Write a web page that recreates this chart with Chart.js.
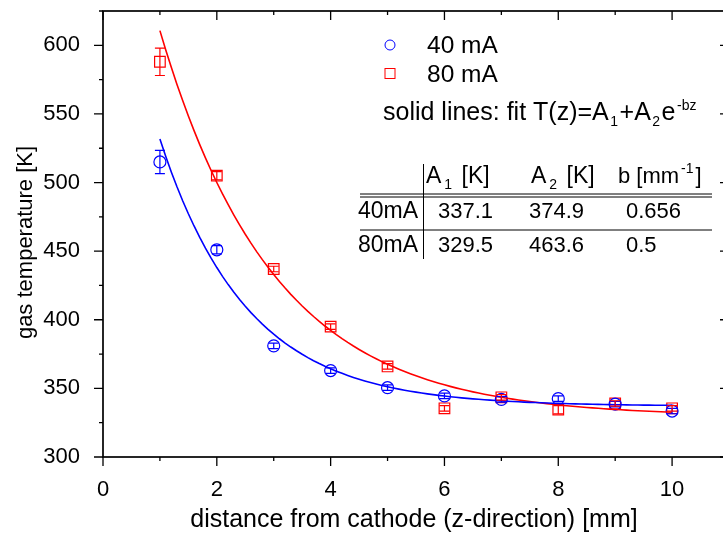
<!DOCTYPE html>
<html>
<head>
<meta charset="utf-8">
<title>Gas temperature vs distance from cathode</title>
<script src="https://cdn.jsdelivr.net/npm/chart.js@4.4.0/dist/chart.umd.min.js"></script>
<style>
  html, body { margin: 0; padding: 0; background: #fff; overflow: hidden; }
  #wrap { width: 730px; height: 533px; }
</style>
</head>
<body>
<div id="wrap"><canvas id="tempChart" width="730" height="533"></canvas></div>
<script>
// positions along the discharge axis [mm]
const distance = [1, 2, 3, 4, 5, 6, 7, 8, 9, 10];

// gas temperature [K] with error bars
const temp40 = [515, 451, 381, 363, 350.5, 344.5, 342, 342.5, 338.5, 333.5];
const err40  = [8.5, 3, 2, 2, 2, 2, 2, 2, 2, 2];
const temp80 = [588, 505, 437, 395, 366, 335.5, 343.5, 334.5, 339, 335.5];
const err80  = [10, 3, 2, 2, 2, 2, 2, 3, 2, 2];

// fit T(z) = A1 + A2 * exp(-b z)
const fitNames = ['40mA', '80mA'];
const fitA1 = [337.1, 329.5];
const fitA2 = [374.9, 463.6];
const fitB  = [0.656, 0.5];

const xTicks = [0, 2, 4, 6, 8, 10];
const yTicks = [300, 350, 400, 450, 500, 550, 600];

const BLUE = '#0000ff';
const RED = '#ff0000';
const FONT = '"Liberation Sans", Arial, sans-serif';

function fitCurve(i) {
  const pts = [];
  for (let k = 0; k <= 90; k++) {
    const z = 1 + k / 10;
    pts.push({ x: z, y: fitA1[i] + fitA2[i] * Math.exp(-fitB[i] * z) });
  }
  return pts;
}

const toPoints = vals => distance.map((z, i) => ({ x: z, y: vals[i] }));

// error bars for the measured points
const errorBars = {
  id: 'errorBars',
  afterDatasetsDraw(chart) {
    const { ctx, scales: { x, y } } = chart;
    chart.data.datasets.forEach(ds => {
      if (!ds.errors) return;
      ctx.save();
      ctx.strokeStyle = ds.borderColor;
      ctx.lineWidth = 1.2;
      ds.data.forEach((p, i) => {
        const px = x.getPixelForValue(p.x);
        const top = y.getPixelForValue(p.y + ds.errors[i]);
        const bot = y.getPixelForValue(p.y - ds.errors[i]);
        ctx.beginPath();
        ctx.moveTo(px, top); ctx.lineTo(px, bot);
        ctx.moveTo(px - 5, top); ctx.lineTo(px + 5, top);
        ctx.moveTo(px - 5, bot); ctx.lineTo(px + 5, bot);
        ctx.stroke();
      });
      ctx.restore();
    });
  }
};

// box frame with major/minor ticks (out on left/bottom, in on top/right)
const frame = {
  id: 'frame',
  afterDraw(chart) {
    const { ctx, chartArea: a, scales: { x, y } } = chart;
    ctx.save();
    ctx.strokeStyle = '#000';
    ctx.lineWidth = 1.3;
    ctx.beginPath();
    for (let v = 0; v <= 11; v++) {
      const px = x.getPixelForValue(v);
      const len = v % 2 === 0 ? 9 : 4;
      ctx.moveTo(px, a.bottom); ctx.lineTo(px, a.bottom + len);
      ctx.moveTo(px, a.top); ctx.lineTo(px, a.top + len);
    }
    for (let v = 300; v <= 625; v += 25) {
      const py = y.getPixelForValue(v);
      const len = v % 50 === 0 ? 9 : 4;
      ctx.moveTo(a.left, py); ctx.lineTo(a.left - len, py);
      ctx.moveTo(a.right, py); ctx.lineTo(a.right - len, py);
    }
    ctx.stroke();
    ctx.lineWidth = 1.7;
    ctx.strokeRect(a.left, a.top, a.right - a.left, a.bottom - a.top);

    // axis titles
    ctx.fillStyle = '#000';
    ctx.textAlign = 'center';
    ctx.textBaseline = 'alphabetic';
    ctx.font = '25px ' + FONT;
    ctx.fillText('distance from cathode (z-direction) [mm]', 414, 527);
    ctx.font = '22px ' + FONT;
    ctx.translate(32, 242.5);
    ctx.rotate(-Math.PI / 2);
    ctx.fillText('gas temperature [K]', 0, 0);
    ctx.restore();
  }
};

// text runs with sub/superscripts
function richText(ctx, parts, x, y, size, gap) {
  parts.forEach(p => {
    const small = p.sub || p.sup;
    ctx.font = (small ? 14 : size) + 'px ' + FONT;
    const dy = p.sub ? 6 : p.sup ? -10 : 0;
    const g = small ? gap : 0;
    ctx.fillText(p.t, x + g, y + dy);
    x += ctx.measureText(p.t).width + g * 2;
  });
}

// legend, fit formula and table of fit parameters
const annotations = {
  id: 'annotations',
  afterDraw(chart) {
    const ctx = chart.ctx;
    ctx.save();
    ctx.textAlign = 'left';
    ctx.textBaseline = 'alphabetic';
    ctx.fillStyle = '#000';
    ctx.lineWidth = 1;

    ctx.strokeStyle = BLUE;
    ctx.beginPath(); ctx.arc(390, 45, 5, 0, Math.PI * 2); ctx.stroke();
    ctx.strokeStyle = RED;
    ctx.strokeRect(385, 68.5, 10, 10);
    ctx.font = '24.5px ' + FONT;
    ctx.fillText('40 mA', 427, 52.5);
    ctx.fillText('80 mA', 427, 81.5);

    richText(ctx, [
      { t: 'solid lines: fit T(z)=A' }, { t: '1', sub: true },
      { t: '+A' }, { t: '2', sub: true }, { t: 'e' }, { t: '-bz', sup: true }
    ], 383, 120, 25, 1.5);

    richText(ctx, [{ t: 'A' }, { t: '1', sub: true }, { t: ' [K]' }], 426, 182.7, 23, 3);
    richText(ctx, [{ t: 'A' }, { t: '2', sub: true }, { t: ' [K]' }], 531, 182.7, 23, 3);
    richText(ctx, [{ t: 'b [mm' }, { t: '-1', sup: true }, { t: ']' }], 618, 182.7, 22, 2);

    const rowY = [218.3, 251.7];
    fitNames.forEach((name, i) => {
      ctx.font = '23px ' + FONT;
      ctx.fillText(name, 358, rowY[i]);
      ctx.font = '22px ' + FONT;
      ctx.fillText(fitA1[i].toFixed(1), 438, rowY[i]);
      ctx.fillText(fitA2[i].toFixed(1), 529, rowY[i]);
      ctx.fillText(String(fitB[i]), 626, rowY[i]);
    });

    ctx.strokeStyle = '#000';
    ctx.beginPath();
    ctx.moveTo(423.5, 164); ctx.lineTo(423.5, 259);
    ctx.moveTo(360, 194); ctx.lineTo(712, 194);
    ctx.moveTo(360, 197); ctx.lineTo(712, 197);
    ctx.moveTo(360, 230); ctx.lineTo(712, 230);
    ctx.stroke();
    ctx.restore();
  }
};

// drop the label overhang padding so the plot box sits where it should
function fixBox(size) {
  return s => {
    if (s.isHorizontal()) s.height = size; else s.width = size;
    s.paddingTop = s.paddingBottom = s.paddingLeft = s.paddingRight = 0;
  };
}

const ctx = document.getElementById('tempChart').getContext('2d');
const tempChart = new Chart(ctx, {
  type: 'scatter',
  data: {
    datasets: [
      {
        label: '40 mA fit',
        data: fitCurve(0),
        showLine: true,
        borderColor: BLUE,
        borderWidth: 1.6,
        pointRadius: 0
      },
      {
        label: '80 mA fit',
        data: fitCurve(1),
        showLine: true,
        borderColor: RED,
        borderWidth: 1.6,
        pointRadius: 0
      },
      {
        label: '40 mA',
        data: toPoints(temp40),
        errors: err40,
        pointStyle: 'circle',
        pointRadius: 6,
        borderColor: BLUE,
        backgroundColor: 'rgba(0,0,0,0)',
        pointBorderWidth: 1.2
      },
      {
        label: '80 mA',
        data: toPoints(temp80),
        errors: err80,
        pointStyle: 'rect',
        pointRadius: 7.5,
        borderColor: RED,
        backgroundColor: 'rgba(0,0,0,0)',
        pointBorderWidth: 1.2
      }
    ]
  },
  options: {
    responsive: false,
    animation: false,
    layout: { autoPadding: false, padding: { top: 11, right: 1, left: 0, bottom: 0 } },
    plugins: {
      legend: { display: false },
      tooltip: { enabled: false }
    },
    scales: {
      x: {
        type: 'linear',
        min: 0,
        max: 11,
        grid: { display: false },
        border: { display: false },
        afterBuildTicks: s => { s.ticks = xTicks.map(v => ({ value: v })); },
        afterFit: fixBox(76),
        ticks: {
          padding: 12,
          maxRotation: 0,
          color: '#000',
          font: { family: FONT, size: 22 }
        }
      },
      y: {
        type: 'linear',
        min: 300,
        max: 625,
        grid: { display: false },
        border: { display: false },
        afterBuildTicks: s => { s.ticks = yTicks.map(v => ({ value: v })); },
        afterFit: fixBox(103),
        ticks: {
          padding: 15,
          color: '#000',
          font: { family: FONT, size: 22 }
        }
      }
    }
  },
  plugins: [errorBars, frame, annotations]
});
</script>
</body>
</html>
